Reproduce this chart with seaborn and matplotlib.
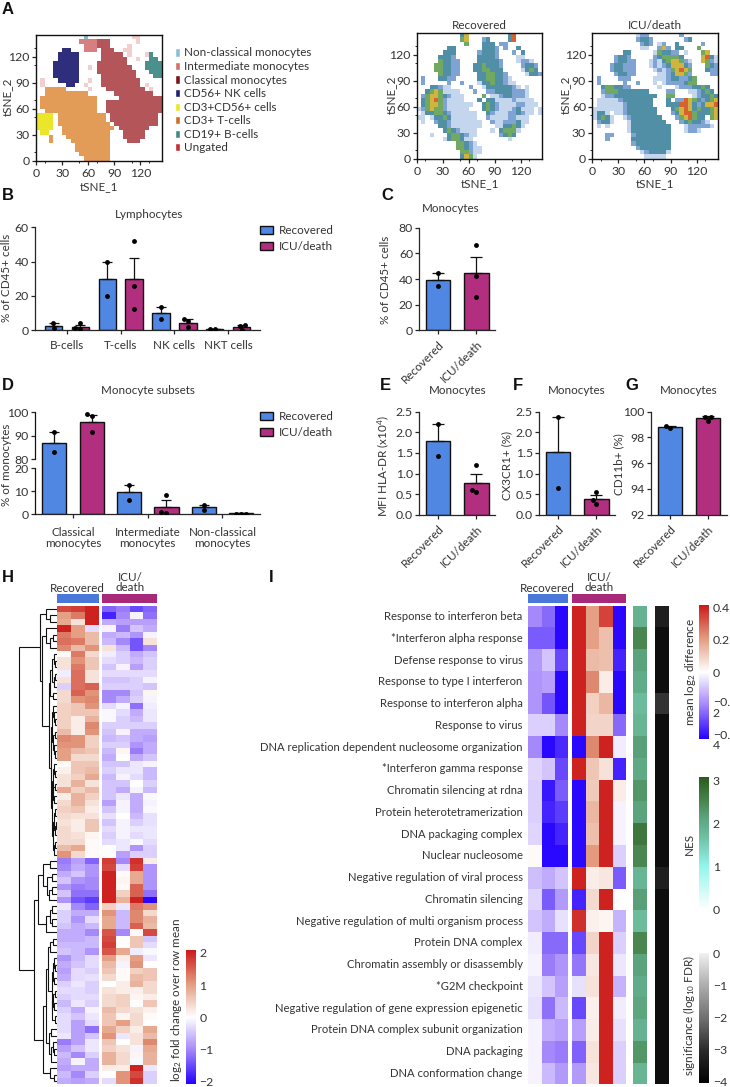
import numpy as np
import pandas as pd
import matplotlib
matplotlib.use("Agg")
import matplotlib.pyplot as plt
from matplotlib.colors import ListedColormap, LinearSegmentedColormap
from matplotlib.patches import Patch
import seaborn as sns

# ---------------- DATA ----------------
GROUPS = ["Recovered", "ICU/death"]
GATE_LABELS = ["Non-classical monocytes", "Intermediate monocytes", "Classical monocytes", "CD56+ NK cells",
               "CD3+CD56+ cells", "CD3+ T-cells", "CD19+ B-cells", "Ungated"]
# coarse tSNE maps: rows y=140..0, columns x=0..140, 5-unit cells
GATE_MAP = [
"...........n..........pp.....",
"..........iiiiccc......p.....",
"...........iiiccc....p.......",
"......kk...iii.ccc..pp.......",
".....kkkkk.....ccccc.p...pb..",
".....kkkkk.....cccccc..p..bb.",
"....kkkkkk....ccccccc....bbbb",
"....kkkkkk..p.cccccccc...bbbb",
"....kkkkkk....ccccccccc...bbb",
"....kkkkkk.....cccccccc....bb",
".p...kkkkk..p..ccccccccc.....",
".p.....kk..p...ccccccccc.p...",
"..ttttt.....p...ccccccccc.p..",
"..tttttttttt......ccccccccc..",
".ttttttttttttt.....cccccccccc",
".ttttttttttttt..ccccccccccccc",
".ttttttttttttt..ccccccccccccc",
"..tttttttttttt..ccccccccccccc",
"yyyy.ttttttttttt.ccccccccccc.",
"yyyy.ttttttttttt.ccccccccccc.",
"yyyy.tttttttttttt.cccccccccc.",
"yyyy..tttttttttttt.ccccccc...",
".yy...ttttttttttt...ccccc....",
"...t...tttttttttt...ccccc....",
"...t....ttttttttt....ccc.....",
".........tttttttt............",
".........tttttttt............",
"..........ttttttt............",
"...........tttttt............",
]
DENS_REC = [
"..........35.........36......",
"..........45...23....36......",
"...........4...333.22........",
".......33......3332.2..3.....",
"......333.....23332...2.3....",
".....3332.....33332....11....",
".....43322....333332...1221..",
"....443322...3343332....2332.",
"....443322...3344333....1343.",
".....43322....3344332....1332",
".2...3322.....33443321.......",
".2.....2..2...133433211......",
"...33211....2..133333321.1...",
"..34541111...2..2233332221...",
".2455432111....4.112332221...",
".3456421111...3.33111121111..",
".345542111111..3432111122111.",
"124544211111...343211123111.1",
".1334432111111..32111223211.1",
"11.13343111111..2111122111...",
".1..23321111111..211222311...",
".....3321111111...1133431....",
"......34321111...1.34441.....",
"...1...3443211.....2343......",
"......1344311........1.......",
".........44321...............",
".........443211..............",
"..........44211..............",
"..........3541...............",
]
DENS_ICU = [
"..........122.......2........",
"..........2332.......23......",
"...........232.12..3.....2...",
"...........11..252.33...4....",
".......33.....143322.1...45..",
".....2332.....2344443....5631",
".....23322...1213455421..5421",
"....233222...1212355532...432",
"....233222....121245654...322",
".....23322.....11235542....22",
".2....222.....1112332234.....",
".2.....2..2...1.12222344.....",
"..3443322......1...12223343..",
"..24443333333....22...112343.",
"..1223333333333..44....123343",
".1111123333333...3.2265432345",
".1111112333333...333665323556",
"111111123333333...34565343345",
"1331.1123333333...23566433345",
"13431..123333333...2456433.45",
".2331...133333333...2343321..",
".1.1....1333333333...1222221.",
"........1333333333...1221....",
"...22....233333333...........",
"...2.....333333333...........",
".........233333333...........",
"..........23333333...........",
"...........1233331...........",
"............11111............",
]
AXIS_TICKS_TSNE = [0, 30, 60, 90, 120]

LYMPH_CATS = ["B-cells", "T-cells", "NK cells", "NKT cells"]
LYMPH_MEAN_REC = [2.5, 30, 10, 0.7]
LYMPH_MEAN_ICU = [2, 30, 4.5, 2]
LYMPH_ERR_REC = [1.5, 10, 3.5, 0.3]
LYMPH_ERR_ICU = [1, 12, 1.8, 0.8]
LYMPH_PTS_REC = [[1.2, 4], [20, 40], [6.5, 13.5], [0.5, 1.0]]
LYMPH_PTS_ICU = [[0.8, 1.2, 4], [12.5, 26, 52], [1.8, 5.2, 6.8], [0, 2.7, 2.8]]

SUBSET_CATS = ["Classical\nmonocytes", "Intermediate\nmonocytes", "Non-classical\nmonocytes"]
SUBSET_MEAN_REC = [87, 9.5, 3]
SUBSET_MEAN_ICU = [96, 3.3, 0.4]
SUBSET_ERR_REC = [4.5, 3.3, 1.2]
SUBSET_ERR_ICU = [2.7, 2.7, 0.1]
SUBSET_PTS_REC = [[83, 91.5], [6.3, 12.8], [2, 4.2]]
SUBSET_PTS_ICU = [[91.5, 98.5, 99.2], [0.7, 1.2, 8.5], [0.3, 0.3, 0.3]]

MONO_MEAN = [39.5, 45]; MONO_ERR = [5.5, 12]; MONO_PTS = [[34.5, 45], [26, 42.5, 66.5]]
HLA_MEAN = [1.8, 0.78]; HLA_ERR = [0.4, 0.22]; HLA_PTS = [[1.42, 2.2], [0.55, 0.6, 1.2]]
CX3_MEAN = [1.52, 0.38]; CX3_ERR = [0.86, 0.1]; CX3_PTS = [[0.65, 2.38], [0.27, 0.35, 0.55]]
CD11_MEAN = [98.8, 99.5]; CD11_ERR = [0.1, 0.15]; CD11_PTS = [[98.7, 98.9], [99.3, 99.6, 99.6]]

H_REC = [
[1.7,1.8,2.0],[1.0,1.3,2.0],[0.9,0.3,2.0],[2.0,1.0,-0.3],[1.3,1.0,0.7],[1.4,1.3,0.7],[1.2,0.7,1.1],[0.05,1.3,0.4],
[0.3,1.1,0.6],[0.3,1.3,0.6],[-0.15,1.4,0.3],[0.3,1.4,0.3],[-0.4,1.4,1.5],[0.4,1.5,1.1],[0.4,1.1,1.2],[0.5,0.6,1.1],
[0.5,0.6,0.6],[0.5,0.2,0.8],[0.5,0.2,1.2],[0.7,0.2,1.1],[1.2,1.1,0.5],[1.1,1.1,0.5],[1.0,0.7,0.6],[1.0,0.4,0.4],
[0.05,0.6,0.6],[0.15,0.6,0.7],[0.3,0.5,0.9],[0.3,0.8,0.3],[0.9,0.5,0.7],[0.2,0.8,0.5],[0.4,0.8,0.3],[0.5,0.6,0.2],
[0.4,0.3,0.3],[0.3,0.2,0.6],[0.4,0.2,0.6],[0.4,0.3,0.1],[0.4,0.4,0.05],[0.7,0.9,0.05],[1.1,0.4,0.05],
[-1.1,-0.8,-1.3],[-1.0,-0.7,-0.9],[-0.7,-0.5,-0.9],[-0.5,-0.9,-1.0],[-0.9,-1.1,-1.0],[-0.5,-1.2,-1.2],[-0.9,-1.4,-1.6],
[-0.2,-1.0,-1.3],[-0.4,-0.7,-0.7],[-0.4,-0.9,-0.3],[-0.5,-0.7,-0.6],[-0.7,-0.7,-1.0],[-0.7,-0.7,-0.6],[-0.6,-0.6,-0.6],
[-0.5,-0.6,-0.9],[-0.9,-0.6,-0.3],[-0.7,-0.5,-0.3],[-0.8,-0.3,-0.4],[-0.7,-0.3,-0.25],[-0.4,-0.2,-0.4],[-0.3,-0.3,-0.4],
[-0.4,-0.3,-0.3],[-0.6,-0.2,-0.4],[-0.4,-0.7,-0.1],[-0.3,-0.5,-0.2],[-0.3,-0.8,-0.3],[-0.3,-0.8,-1.2],[-0.2,-0.8,-0.5],
[-1.1,-0.8,-0.2],[-0.8,-0.5,-0.2],[-0.6,-1.0,-0.4],[-0.7,-0.1,-0.7],[-0.8,-0.7,-0.7],[-0.6,-1.0,-0.4],[-0.7,-0.8,-0.7],
]
H_ICU = [
[-1.3,-1.1,-1.5,-1.3],[-1.8,-1.0,-0.1,-1.2],[-0.7,-0.8,-0.8,-0.8],[-0.1,-1.1,-0.5,-0.7],[-0.7,-0.6,-0.9,-0.1],
[-0.6,-1.0,-1.4,0.3],[0.3,-0.6,-1.4,-1.0],[-0.15,-0.4,-0.7,-0.5],[-0.3,-0.4,-0.6,-0.4],[-0.5,-0.1,-0.8,-0.4],
[-0.3,-0.3,-0.3,-0.3],[-0.5,-0.5,-0.4,-0.1],[-0.4,-0.4,-0.4,-0.5],[-1.0,-1.0,-0.5,0.1],[-1.0,-0.7,-0.4,-0.1],
[-0.3,-0.1,-1.2,-0.15],[-0.05,-0.3,-0.7,-0.2],[-0.05,-0.4,-0.6,-0.2],[-0.4,-0.4,-0.4,-0.4],[-0.5,-0.1,-0.7,-0.7],
[-0.6,-0.5,-0.7,-0.8],[-0.4,-0.4,-0.9,-0.7],[-0.6,0.1,-1.1,-0.7],[-0.7,0.0,-0.7,-0.5],[-0.5,-0.5,-0.2,-0.1],
[-0.4,-0.2,-0.2,-0.6],[-0.6,-0.1,-0.3,-0.6],[-0.5,-0.5,0.0,-0.4],[-0.5,-0.7,-0.1,-0.6],[-0.5,-0.2,-0.7,-0.05],
[-0.8,-0.1,-0.7,-0.1],[-0.5,-0.1,-0.7,-0.05],[-0.25,0.0,-0.6,-0.25],[-0.5,-0.1,-0.4,-0.25],[-0.3,-0.1,-0.2,-0.2],
[-0.4,-0.1,-0.3,-0.2],[-0.3,-0.2,-0.05,-0.3],[0.0,-0.2,-0.9,-0.4],[0.0,-0.8,-0.4,-0.4],
[1.8,-1.0,1.9,0.2],[1.7,-0.3,1.8,-0.9],[2.0,0.05,0.9,-0.9],[2.0,0.1,0.9,-0.9],[2.0,0.05,1.5,-0.9],[2.0,0.5,1.5,-1.2],
[2.0,0.8,2.0,-2.0],[0.5,-0.2,1.3,1.1],[1.1,-0.6,1.2,0.4],[0.9,-0.6,1.2,0.8],[0.9,-0.6,1.5,0.7],[1.6,-1.0,0.05,1.7],
[1.7,0.02,0.6,-0.5],[1.8,0.02,0.6,-0.3],[1.6,0.9,-0.15,-0.05],[1.0,0.2,1.0,-0.2],[0.7,-0.1,1.1,0.0],[0.6,0.05,0.5,0.6],
[0.4,0.05,0.7,0.6],[0.0,0.2,0.8,0.4],[0.3,0.2,0.15,0.4],[0.4,0.5,0.1,0.2],[0.4,0.5,0.02,0.6],[0.7,0.4,0.3,0.15],
[0.6,0.1,0.4,0.05],[0.6,1.0,0.4,0.0],[0.9,0.5,0.2,0.9],[1.1,-0.2,0.3,0.7],[0.6,0.0,0.3,1.2],[0.5,0.3,-0.1,0.9],
[0.8,0.4,0.1,0.8],[0.8,0.4,-0.05,0.8],[0.2,0.2,2.0,-0.2],[0.0,1.1,1.7,-0.4],[-0.3,1.1,1.9,-0.4],
]
# row dendrogram of H as nested (height, upper, lower); 0 is a leaf
_A = (11, 0, (7, 0, 0))
_B = (11, 0, (7, (4, 0, 0), 0))
_C = (6.5, (5, (3, 0, (2, 0, 0)), (3, (2, 0, 0), 0)), (4, 0, 0))
_D1 = (4.5, (3.5, 0, (2.5, 0, (2, 0, 0))), (3.5, (2, 0, 0), (2.5, 0, (2, 0, 0))))
_D2 = (4.5, (3.8, (3, 0, (2, 0, 0)), (3.2, (2, 0, 0), (2.2, 0, 0))),
       (4, (2.5, (1.5, 0, 0), (1.5, (1, 0, 0), 0)), (2.5, (1.8, 0, 0), 0)))
_T1 = (17, _A, (14.3, _B, (7.5, _C, (5.5, _D1, _D2))))
_U = (14, (7, 0, 0), (10, (5, 0, 0), (8, (5, 0, 0), 0)))
_W = (11, (7, (5, 0, 0), (5, 0, 0)), 0)
_Q1 = (11, (9, (7, (4, 0, 0), 0),
            (5, (4, (3, 0, (2, 0, 0)), (3, 0, 0)), (4.5, (3.5, (2, 0, 0), (2.5, 0, 0)), (2, 0, 0)))),
       (8, (6, 0, 0), (6, (4, 0, (3, 0, 0)), 0)))
_T2 = (22.7, (19, _U, _W), (13.3, _Q1, (7, 0, (3, 0, 0))))
H_TREE = (37.7, _T1, _T2)

I_TERMS = ["Response to interferon beta", "*Interferon alpha response", "Defense response to virus",
           "Response to type I interferon", "Response to interferon alpha", "Response to virus",
           "DNA replication dependent nucleosome organization", "*Interferon gamma response",
           "Chromatin silencing at rdna", "Protein heterotetramerization", "DNA packaging complex",
           "Nuclear nucleosome", "Negative regulation of viral process", "Chromatin silencing",
           "Negative regulation of multi organism process", "Protein DNA complex",
           "Chromatin assembly or disassembly", "*G2M checkpoint", "Negative regulation of gene expression epigenetic",
           "Protein DNA complex subunit organization", "DNA packaging", "DNA conformation change"]
I_REC = [[-0.2,-0.25,-0.4],[-0.27,-0.27,-0.4],[-0.17,-0.1,-0.3],[-0.18,-0.16,-0.4],[-0.18,-0.28,-0.4],[-0.08,-0.08,-0.2],
         [-0.2,-0.4,-0.35],[-0.07,-0.1,-0.3],[-0.08,-0.38,-0.27],[-0.08,-0.36,-0.32],[-0.07,-0.4,-0.36],[0.01,-0.4,-0.4],
         [-0.11,-0.14,-0.1],[-0.07,-0.27,-0.17],[-0.1,-0.14,-0.05],[-0.03,-0.25,-0.25],[-0.02,-0.22,-0.18],[-0.04,-0.1,-0.16],
         [-0.05,-0.24,-0.12],[-0.02,-0.14,-0.16],[-0.02,-0.2,-0.22],[-0.02,-0.12,-0.17]]
I_ICU = [[0.4,0.2,0.35,-0.4],[0.4,0.2,0.13,-0.4],[0.4,0.14,0.13,-0.36],[0.4,0.24,0.04,-0.4],[0.4,0.1,0.15,-0.4],[0.4,0.09,0.09,-0.25],
         [-0.4,0.24,0.4,-0.03],[0.4,0.12,0.06,-0.36],[-0.4,0.11,0.4,0.04],[-0.4,0.15,0.4,-0.02],[-0.4,0.13,0.4,-0.02],[-0.4,0.21,0.4,-0.08],
         [0.4,0.04,0.05,-0.27],[-0.36,0.08,0.4,0.0],[0.38,0.03,0.02,-0.13],[-0.3,0.09,0.4,-0.08],[-0.23,0.05,0.4,-0.04],[-0.05,0.06,0.4,-0.13],
         [-0.3,0.03,0.4,-0.03],[-0.16,0.04,0.4,-0.05],[-0.26,0.06,0.4,-0.08],[-0.17,0.05,0.4,-0.08]]
I_NES = [1.9,2.5,2.15,2.0,1.75,1.85,2.2,2.05,2.3,2.15,2.7,2.5,1.85,2.2,1.75,2.5,2.15,2.0,2.1,1.9,2.3,1.85]
I_SIG = [-3.3,-3.7,-3.7,-3.7,-2.9,-3.7,-3.7,-3.7,-3.7,-3.7,-3.7,-3.7,-3.3,-3.7,-3.7,-3.7,-3.7,-3.7,-3.7,-3.7,-3.7,-3.7]

# ---------------- STYLE ----------------
sns.set_theme(style="ticks")
INK = "#333333"
LABEL_FS = 8.4
plt.rcParams.update({
    "font.family": ["Lato", "DejaVu Sans"], "mathtext.default": "regular", "text.color": INK,
    "axes.labelcolor": INK, "xtick.labelcolor": INK, "ytick.labelcolor": INK,
    "axes.linewidth": 0.9, "xtick.major.width": 0.9, "ytick.major.width": 0.9,
    "xtick.major.size": 3, "ytick.major.size": 3, "xtick.major.pad": 2, "ytick.major.pad": 1.5,
    "font.size": LABEL_FS, "xtick.labelsize": 8.8, "ytick.labelsize": 8.8, "axes.labelsize": LABEL_FS,
})
BLUE, MAGENTA = "#5087E2", "#B12F7E"
BAR_BLUE, BAR_MAG = "#4A78D8", "#A8287A"
W, H = 730, 1087
fig = plt.figure(figsize=(W / 100, H / 100), dpi=100, facecolor="white")

def axpx(l, t, r, b, **kw):
    return fig.add_axes([l / W, 1 - b / H, (r - l) / W, (b - t) / H], **kw)

def txt(x, y, s, **kw):
    kw.setdefault("ha", "center"); kw.setdefault("va", "center")
    return fig.text(x / W, 1 - y / H, s, **kw)

def ylab(ax, s, x, y):
    # the label's right edge sits on the anchor; x is the wanted centre
    ax.set_ylabel(s)
    ax.yaxis.set_label_coords((x + 5.5) / W, 1 - y / H, transform=fig.transFigure)

def xlab(ax, s, x, y):
    ax.set_xlabel(s)
    ax.xaxis.set_label_coords(x / W, 1 - y / H, transform=fig.transFigure)

for s, x, y in [("A", 2, 9), ("B", 2, 196), ("C", 381, 196), ("D", 2, 386), ("E", 380, 386), ("F", 513, 386),
                ("G", 625, 386), ("H", 2, 577), ("I", 269, 577)]:
    txt(x, y, s, ha="left", family="Liberation Sans", weight="bold", fontsize=12, color="#111111")

# ---------------- A ----------------
GATE_CODES = ".nickytbp"
GATE_COLORS = ["#FFFFFF", "#8ABBD4", "#D77F80", "#B4555A", "#2E2E7C", "#EBE62A", "#E29C58", "#4A918E", "#F2CFCF"]
DENS_COLORS = ["#FFFFFF", "#C4D6EE", "#7FA3D2", "#508FA6", "#72A962", "#CFB53F", "#D9612F"]

def tsne_axes(l, t, r, b, grid, cmap, vmax, title=None, lx=None, ly=None, xy=178.5):
    ax = axpx(l, t, r, b)
    sns.heatmap(np.array(grid), cmap=cmap, vmin=0, vmax=vmax, cbar=False, ax=ax,
                xticklabels=False, yticklabels=False, rasterized=True)
    n = len(grid)
    ax.set_xticks([v / 5 for v in AXIS_TICKS_TSNE], AXIS_TICKS_TSNE, rotation=0)
    ax.set_yticks([n - v / 5 for v in AXIS_TICKS_TSNE], AXIS_TICKS_TSNE, rotation=0)
    ax.set_xticks([v / 5 for v in range(10, 145, 20)], minor=True)
    ax.set_yticks([n - v / 5 for v in range(10, 145, 20)], minor=True)
    ax.tick_params(which="minor", length=1.5, width=0.7, left=True, bottom=True)
    ax.tick_params(which="major", left=True, bottom=True, length=3)
    for s in ax.spines.values():
        s.set_visible(True); s.set_color("#111111"); s.set_linewidth(1.0)
    xlab(ax, "tSNE_1", (l + r) / 2, xy)
    ylab(ax, "tSNE_2", lx, ly)
    if title:
        ax.set_title(title, fontsize=LABEL_FS, color=INK, pad=3)
    return ax

gate_grid = [[GATE_CODES.index(c) for c in row] for row in GATE_MAP]
tsne_axes(36, 35, 162, 160.7, gate_grid, ListedColormap(GATE_COLORS), 8, lx=7.5, ly=96.7, xy=181)
dens = lambda rows: [[0 if c == "." else int(c) for c in row.ljust(29, ".")[:29]] for row in rows]
tsne_axes(416.7, 33, 542.3, 158.7, dens(DENS_REC), ListedColormap(DENS_COLORS), 6, GROUPS[0], lx=391.7, ly=95)
tsne_axes(592.3, 33, 718.3, 158.7, dens(DENS_ICU), ListedColormap(DENS_COLORS), 6, GROUPS[1], lx=565, ly=95)

gate_handles = [Patch(facecolor=c, label=l) for c, l in zip(
    ["#8CBFD6", "#D4716F", "#7B1518", "#22206F", "#EBE81E", "#CC6E24", "#3E8C88", "#C2302F"], GATE_LABELS)]
fig.legend(handles=gate_handles, loc="upper left", bbox_to_anchor=(175 / W, 1 - 47.5 / H), frameon=False, borderpad=0,
           borderaxespad=0, fontsize=LABEL_FS, handlelength=0.46, handleheight=0.7, handletextpad=0.3, labelspacing=0.22)

# ---------------- bars ----------------
PALETTE = dict(zip(GROUPS, [BLUE, MAGENTA]))

def group_bars(ax, cats, m_rec, m_icu, e_rec, e_icu, p_rec, p_icu, xlim, ylim):
    n = len(cats)
    df = pd.DataFrame({"pos": list(range(n)) * 2, "val": list(m_rec) + list(m_icu),
                       "group": [GROUPS[0]] * n + [GROUPS[1]] * n})
    sns.barplot(data=df, x="pos", y="val", hue="group", hue_order=GROUPS, palette=PALETTE, native_scale=True, width=1.0,
                gap=0.35, edgecolor="#111111", linewidth=1.0, saturation=1, errorbar=None, legend=False, ax=ax)
    xs = [i - 0.25 for i in range(n)] + [i + 0.25 for i in range(n)]
    ax.errorbar(xs, list(m_rec) + list(m_icu), yerr=[[0] * (2 * n), list(e_rec) + list(e_icu)], fmt="none",
                ecolor="#111111", elinewidth=0.9, capsize=3.6, capthick=0.9, zorder=3)
    rows = [(x, v) for x, vs in zip(xs, list(p_rec) + list(p_icu)) for v in vs]
    pts = pd.DataFrame(rows, columns=["pos", "val"])
    ax.set_xlim(*xlim); ax.set_ylim(*ylim)
    sns.swarmplot(data=pts, x="pos", y="val", native_scale=True, color="black", size=3.5, linewidth=0, warn_thresh=1,
                  zorder=4, ax=ax)
    ax.set_xlim(*xlim); ax.set_ylim(*ylim)
    ax.set_xticks(range(n), cats)
    ax.set_xlabel("")
    sns.despine(ax=ax)

def two_bars(l, t, r, b, means, errs, pts, ylim, yticks, ylabel, lx, ly, title, tx, ty):
    ax = axpx(l, t, r, b)
    df = pd.DataFrame({"pos": [0, 1], "val": means, "group": GROUPS})
    sns.barplot(data=df, x="pos", y="val", hue="group", hue_order=GROUPS, palette=PALETTE, native_scale=True, dodge=False,
                width=0.64, edgecolor="#111111", linewidth=1.0, saturation=1, errorbar=None, legend=False, ax=ax)
    ax.errorbar([0, 1], means, yerr=[[0, 0], errs], fmt="none", ecolor="#111111", elinewidth=0.9, capsize=4.5,
                capthick=0.9, zorder=3)
    rows = [(i, v) for i, vs in enumerate(pts) for v in vs]
    xlim = (-0.5, 1.49)
    ax.set_xlim(*xlim); ax.set_ylim(*ylim)
    sns.swarmplot(data=pd.DataFrame(rows, columns=["pos", "val"]), x="pos", y="val", native_scale=True, color="black",
                  size=3.5, linewidth=0, warn_thresh=1, zorder=4, ax=ax)
    ax.set_xlim(*xlim); ax.set_ylim(*ylim)
    ax.set_yticks(yticks)
    ax.set_xticks([0, 1])
    ax.set_xticklabels(GROUPS, rotation=45, ha="right", rotation_mode="anchor", fontsize=LABEL_FS)
    ax.tick_params(axis="x", pad=3)
    ax.set_xlabel("")
    ylab(ax, ylabel, lx, ly)
    sns.despine(ax=ax)
    txt(tx, ty, title)
    return ax

def bar_legend(ax, x, ytop):
    hs = [Patch(facecolor=c, edgecolor="#111111", linewidth=1.0, label=g) for g, c in PALETTE.items()]
    ax.legend(handles=hs, loc="upper left", bbox_to_anchor=(x / W, 1 - ytop / H), bbox_transform=fig.transFigure,
              frameon=False, borderpad=0, borderaxespad=0, fontsize=LABEL_FS, handlelength=1.1, handleheight=0.68,
              handletextpad=0.55, labelspacing=0.42)

# B
axB = axpx(35, 227.3, 260, 330.3)
group_bars(axB, LYMPH_CATS, LYMPH_MEAN_REC, LYMPH_MEAN_ICU, LYMPH_ERR_REC, LYMPH_ERR_ICU, LYMPH_PTS_REC, LYMPH_PTS_ICU,
           (-0.596, 3.594), (0, 60))
axB.set_yticks([0, 20, 40, 60])
axB.tick_params(axis="x", pad=4, labelsize=LABEL_FS)
ylab(axB, "% of CD45+ cells", 6.5, 278)
txt(149, 214, "Lymphocytes")
bar_legend(axB, 260, 225)

# D with a broken y axis
axD = axpx(35, 412.3, 260, 514.3)
group_bars(axD, SUBSET_CATS, SUBSET_MEAN_REC, SUBSET_MEAN_ICU, SUBSET_ERR_REC, SUBSET_ERR_ICU, SUBSET_PTS_REC, SUBSET_PTS_ICU,
           (-0.509, 2.503), (0, 100))
_v, _p = [0, 20, 80, 100], [0, 46, 55.3, 102]
axD.set_yscale("function", functions=(lambda a: np.interp(a, _v, _p), lambda a: np.interp(a, _p, _v)))
axD.set_ylim(0, 100)
axD.set_yticks([0, 10, 20, 80, 90, 100], [0, 10, 20, 80, 90, 100])
axD.minorticks_off()
axD.spines["left"].set_visible(False)
for seg in ([0, 20], [80, 100]):
    axD.plot([0, 0], seg, color="#111111", lw=0.9, transform=axD.get_yaxis_transform(), clip_on=False, zorder=6)
axD.tick_params(axis="x", pad=6.5, labelsize=LABEL_FS)
for t in axD.get_xticklabels():
    t.set_linespacing(0.9)
ylab(axD, "% of monocytes", 6.5, 465)
txt(147.5, 390, "Monocyte subsets")
bar_legend(axD, 260, 411)

# C, E, F, G
two_bars(419.3, 227.7, 495, 330.3, MONO_MEAN, MONO_ERR, MONO_PTS, (0, 80), [0, 20, 40, 60, 80], "% of CD45+ cells", 385.7, 280,
         "Monocytes", 451, 209)
two_bars(419.3, 411.7, 495, 514.7, HLA_MEAN, HLA_ERR, HLA_PTS, (0, 2.5), [0, 0.5, 1, 1.5, 2, 2.5],
         "MFI HLA-DR (x10$^4$)", 385, 466, "Monocytes", 457.5, 391).yaxis.set_major_formatter("{x:.1f}")
two_bars(539, 411.7, 615, 514.7, CX3_MEAN, CX3_ERR, CX3_PTS, (0, 2.5), [0, 0.5, 1, 1.5, 2, 2.5],
         "CX3CR1+ (%)", 507, 465, "Monocytes", 577, 391).yaxis.set_major_formatter("{x:.1f}")
two_bars(651, 411.7, 726.7, 514.7, CD11_MEAN, CD11_ERR, CD11_PTS, (92, 100), [92, 94, 96, 98, 100],
         "CD11b+ (%)", 619, 464, "Monocytes", 689, 391)

# ---------------- heatmaps ----------------
DIV = LinearSegmentedColormap.from_list("div", [(0, "#2200FF"), (0.25, "#A284FA"), (0.5, "#FFFFFF"), (0.75, "#E39C80"), (1, "#CC1A1A")])
NES_CM = LinearSegmentedColormap.from_list("nes", [(0, "#FFFFFF"), (0.325, "#93F5EC"), (0.568, "#6CBB9C"), (0.70, "#5BA37C"), (0.81, "#4A8650"), (1, "#2A5A1C")])
SIG_CM = LinearSegmentedColormap.from_list("sig", [(0, "#000000"), (0.25, "#2A2A2A"), (0.5, "#707070"), (0.75, "#ADADAD"), (1, "#F0F0F0")])

def style_cbar(cb, ticks, labels=None):
    cb.outline.set_visible(False)
    cb.set_ticks(ticks, labels=labels)
    cb.ax.tick_params(direction="in", color="white", length=2.5, width=0.9, left=True, right=True, pad=2.5)
    cb.ax.yaxis.set_ticks_position("both")
    cb.ax.tick_params(labelleft=False, labelright=True)
    cb.ax.minorticks_off()

def bar_strip(l, r, color):
    ax = axpx(l, 594, r, 602.7)
    ax.set_facecolor(color); ax.set_xticks([]); ax.set_yticks([])
    for s in ax.spines.values():
        s.set_visible(False)

TOP, BOT = 605.7, 1084.3
# H
axH1 = axpx(57.3, TOP, 98.7, BOT)
caxH = axpx(185.7, 950.3, 195.7, 1084.3)
sns.heatmap(np.array(H_REC), cmap=DIV, vmin=-2.08, vmax=2.08, ax=axH1, cbar_ax=caxH, xticklabels=False, yticklabels=False)
style_cbar(axH1.collections[0].colorbar, [-2, -1, 0, 1, 2])
axH2 = axpx(102, TOP, 157, BOT)
sns.heatmap(np.array(H_ICU), cmap=DIV, vmin=-2.08, vmax=2.08, ax=axH2, cbar=False, xticklabels=False, yticklabels=False)
bar_strip(57.3, 98.7, BAR_BLUE); bar_strip(102, 157, BAR_MAG)
txt(77.7, 588, GROUPS[0])
txt(130, 582.5, "ICU/\ndeath", linespacing=0.95)
txt(176.7, 1000, "log$_2$ fold change over row mean", rotation=90)

axT = axpx(18, TOP, 56.5, BOT)
axT.set_xlim(38.5, 0); axT.set_ylim(len(H_REC), 0); axT.axis("off")
_leaf = [0]
def draw_tree(node):
    if node == 0:
        _leaf[0] += 1
        return _leaf[0] - 0.5, 0.0
    h, a, b = node
    ya, ha = draw_tree(a)
    yb, hb = draw_tree(b)
    axT.plot([ha, h, h, hb], [ya, ya, yb, yb], color="#111111", lw=0.8, solid_joinstyle="miter")
    return (ya + yb) / 2, h
draw_tree(H_TREE)

# I
axI1 = axpx(528.3, TOP, 568.3, BOT)
caxI = axpx(698.7, 605, 709.3, 739.3)
sns.heatmap(np.array(I_REC), cmap=DIV, vmin=-0.416, vmax=0.416, ax=axI1, cbar_ax=caxI, xticklabels=False, yticklabels=I_TERMS)
axI1.tick_params(axis="y", length=0, pad=4, labelsize=8.1, labelrotation=0)
style_cbar(axI1.collections[0].colorbar, [-0.4, -0.2, 0, 0.2, 0.4], ["", "", "0", "0.2", "0.4"])
for v, s in [(-0.2, "−0.\n2"), (-0.4, "−0.\n4")]:
    caxI.annotate(s, xy=(1, v), xycoords=caxI.get_yaxis_transform(), xytext=(2.5, 5), textcoords="offset points",
                  va="top", ha="left", linespacing=0.9, fontsize=8.8, color=INK, annotation_clip=False)
axI2 = axpx(572.3, TOP, 626, BOT)
sns.heatmap(np.array(I_ICU), cmap=DIV, vmin=-0.416, vmax=0.416, ax=axI2, cbar=False, xticklabels=False, yticklabels=False)
axN = axpx(633.3, TOP, 647.3, BOT)
caxN = axpx(698.7, 776.7, 709.3, 910)
sns.heatmap(np.array(I_NES).reshape(-1, 1), cmap=NES_CM, vmin=0, vmax=3.08, ax=axN, cbar_ax=caxN, xticklabels=False, yticklabels=False)
style_cbar(axN.collections[0].colorbar, [0, 1, 2, 3])
axS = axpx(654.7, TOP, 668.7, BOT)
caxS = axpx(698.7, 953, 709.3, 1083.0)
sns.heatmap(np.array(I_SIG).reshape(-1, 1), cmap=SIG_CM, vmin=-4.05, vmax=0, ax=axS, cbar_ax=caxS, xticklabels=False, yticklabels=False)
style_cbar(axS.collections[0].colorbar, [-4, -3, -2, -1, 0])
bar_strip(528.3, 568.3, BAR_BLUE); bar_strip(572.3, 626, BAR_MAG)
txt(547.7, 588, GROUPS[0])
txt(599, 582.5, "ICU/\ndeath", linespacing=0.95)
txt(690, 671.7, "mean log$_2$ difference", rotation=90)
txt(689, 843.7, "NES", rotation=90)
txt(689, 1016, "significance (log$_{10}$ FDR)", rotation=90)

fig.savefig("out.png", dpi=100)
